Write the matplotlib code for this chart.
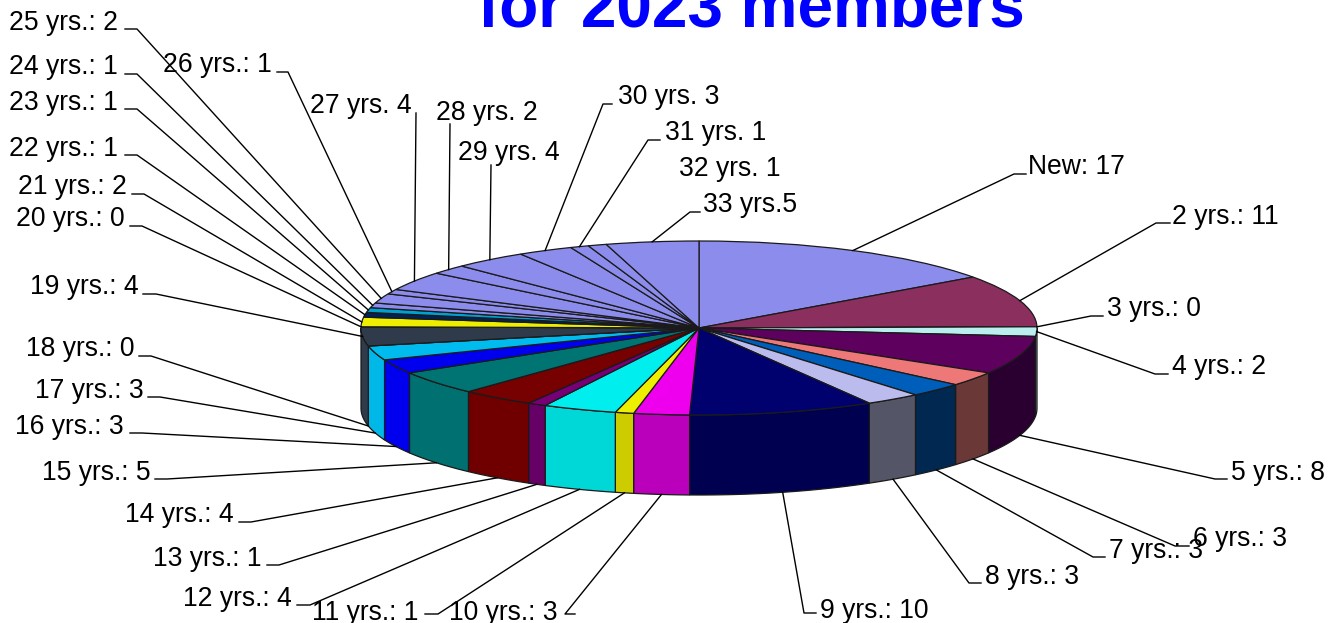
import numpy as np
import matplotlib
matplotlib.use('Agg')
import matplotlib.pyplot as plt

plt.rcParams['font.family'] = ['Liberation Sans', 'DejaVu Sans']

labels = ['New: 17', '2 yrs.: 11', '3 yrs.: 0', '4 yrs.: 2', '5 yrs.: 8', '6 yrs.: 3',
          '7 yrs.: 3', '8 yrs.: 3', '9 yrs.: 10', '10 yrs.: 3', '11 yrs.: 1', '12 yrs.: 4',
          '13 yrs.: 1', '14 yrs.: 4', '15 yrs.: 5', '16 yrs.: 3', '17 yrs.: 3', '18 yrs.: 0',
          '19 yrs.: 4', '20 yrs.: 0', '21 yrs.: 2', '22 yrs.: 1', '23 yrs.: 1', '24 yrs.: 1',
          '25 yrs.: 2', '26 yrs.: 1', '27 yrs. 4', '28 yrs. 2', '29 yrs. 4', '30 yrs. 3',
          '31 yrs. 1', '32 yrs. 1', '33 yrs.5']
members = [17, 11, 0, 2, 8, 3, 3, 3, 10, 3, 1, 4, 1, 4, 5, 3, 3, 0, 4, 0, 2, 1, 1, 1,
           2, 1, 4, 2, 4, 3, 1, 1, 5]

peri = '#8C8CEC'
top_colors = [peri, '#8B2F5E', '#EEEEBB', '#BBEEEE', '#5E005E', '#EE7777', '#005EBB', '#BBBBEE',
              '#00006E', '#EE00EE', '#EEEE00', '#00EEEE', '#770077', '#770000', '#007373',
              '#0000EE', '#00BBEE', '#BBEEEE', '#2F3B4B', '#BBEEBB', '#EEEE00', '#002255',
              '#00A0D0'] + [peri] * 10
side_colors = ['#6A6AB0', '#5E2040', '#AAAA88', '#8A9A9A', '#2A0030', '#6B3838', '#002850', '#555568',
               '#000050', '#BB00BB', '#CCCC00', '#00D8D8', '#660066', '#700000', '#007070',
               '#0000EE', '#00B8E8', '#8AA0A0', '#2F3B4B', '#88AA88', '#CCCC00', '#002255',
               '#00A0D0'] + ['#6A6AB0'] * 10

# layout in picture pixels
cx, cy, rx, ry, depth = 699, 328, 338, 87, 80
label_x = [1028, 1172, 1107, 1172, 1231, 1193, 1109, 985, 820, 449, 312, 183, 153, 125, 42, 15, 35,
           26, 30, 16, 18, 9, 9, 9, 9, 163, 310, 436, 458, 618, 665, 679, 703]
label_y = [174, 223, 316, 374, 479, 546, 557, 583, 618, 619, 619, 605, 565, 522, 479, 433, 397,
           356, 294, 226, 194, 155, 109, 74, 29, 72, 112, 119, 159, 104, 140, 176, 212]
# horizontal stub of each leader: start x, elbow x (None = no stub / no leader)
stub_x = [(1026, 1014), (1170, 1156), (1103, 1091), (1168, 1155), (1227, 1215), (1189, 1175),
          (1105, 1093), (981, 969), (816, 804), (575, 565), (425, 438), (297, 310), (267, 279),
          (239, 251), (155, 167), (130, 142), (148, 160), (139, 151), (143, 156), (130, 142),
          (132, 144), (125, 137), (125, 137), (125, 137), (125, 137), (277, 288), (416, 416),
          (450, 450), (491, 491), (612, 603), (660, 648), None, (700, 690)]
stub_y = list(label_y)
stub_y[8] = 613
stub_y[9] = 614
stub_y[10] = 614
stub_y[26] = 113
stub_y[27] = 124
stub_y[28] = 165


def to_x(px):
    return (np.asarray(px, dtype=float) - cx) / rx


def to_y(py):
    return (cy - np.asarray(py, dtype=float)) / ry


fig = plt.figure(figsize=(13.32, 6.23), dpi=100)
ax = fig.add_axes([0, 0, 1, 1])

wedges, _ = ax.pie(members, colors=top_colors, startangle=90, counterclock=False, radius=1,
                   wedgeprops=dict(edgecolor='#1a1a1a', linewidth=0.9, zorder=3))
ax.set_aspect('auto')
ax.set_xlim(to_x(0), to_x(1332))
ax.set_ylim(to_y(623), to_y(0))

edges = np.cumsum([0] + members) / sum(members) * 360
mids = (edges[:-1] + edges[1:]) / 2
d = depth / ry

# side wall of the front half
for a0, a1, c in zip(edges[:-1], edges[1:], side_colors):
    a0, a1 = max(a0, 90), min(a1, 270)
    if a1 <= a0:
        continue
    t = np.radians(np.linspace(a0, a1, 40))
    xs = np.concatenate([np.sin(t), np.sin(t[::-1])])
    ys = np.concatenate([np.cos(t), np.cos(t[::-1]) - d])
    ax.fill(xs, ys, facecolor=c, edgecolor='#1a1a1a', linewidth=0.9, zorder=2)

# leaders and labels
for i, lab in enumerate(labels):
    ax.text(to_x(label_x[i]), to_y(label_y[i] + 0.5), lab, fontsize=19.1, ha='left', va='baseline',
            color='black', zorder=6)
    if stub_x[i] is None:
        continue
    t = np.radians(mids[i])
    tip_x, tip_y = np.sin(t), np.cos(t)
    if 95 < mids[i] < 262:
        tip_y -= d
    ax.plot([to_x(stub_x[i][0]), to_x(stub_x[i][1]), tip_x],
            [to_y(stub_y[i]), to_y(stub_y[i]), tip_y],
            color='black', linewidth=1.0, zorder=5, clip_on=False)

ax.text(to_x(751), to_y(26.5), 'for 2023 members', fontsize=46, fontweight='bold', color='#0000FF',
        ha='center', va='baseline', zorder=6)

fig.savefig('out.png', dpi=100)
